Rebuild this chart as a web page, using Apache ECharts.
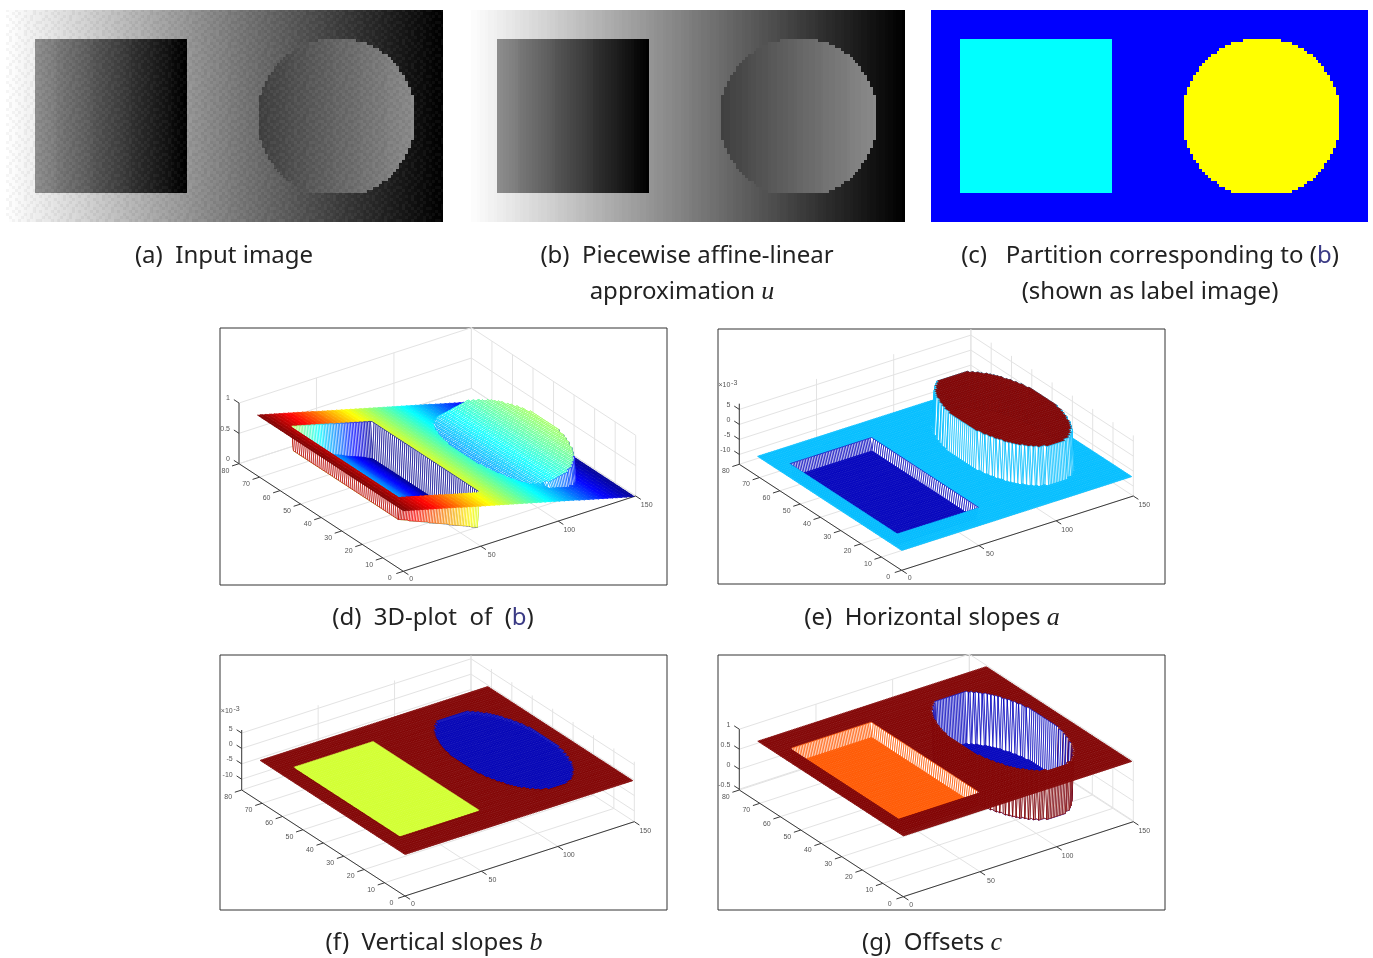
<!DOCTYPE html>
<html>
<head>
<meta charset="utf-8">
<title>Piecewise affine-linear approximation</title>
<style>html,body{margin:0;background:#fff}#chart{width:1373px;height:958px}</style>
<script src="https://cdn.jsdelivr.net/npm/echarts@6/dist/echarts.min.js"></script>
</head>
<body>
<div id="chart"></div>
<script>
// grey level of each image column
const backgroundGrey = [1,.99,.99,.98,.97,.97,.96,.95,.95,.94,.93,.93,.92,.91,.91,.90,.89,.89,.88,.87,.87,.86,.85,.85,.84,.83,.83,.82,.81,.81,
  .80,.79,.79,.78,.77,.77,.76,.75,.74,.74,.73,.72,.72,.71,.70,.70,.69,.68,.68,.67,.66,.66,.65,.64,.64,.63,.62,.62,.61,.60,
  .60,.59,.58,.58,.57,.56,.56,.55,.54,.54,.53,.52,.52,.51,.50,.50,.49,.48,.48,.47,.46,.46,.45,.44,.44,.43,.42,.42,.41,.40,
  .40,.39,.38,.38,.37,.36,.36,.35,.34,.34,.33,.32,.32,.31,.30,.30,.29,.28,.28,.27,.26,.26,.25,.24,.23,.23,.22,.21,.21,.20,
  .19,.19,.18,.17,.17,.16,.15,.15,.14,.13,.13,.12,.11,.11,.10,.09,.09,.08,.07,.07,.06,.05,.05,.04,.03,.03,.02,.01,.01,0];
const rectGrey = [.55,.54,.53,.52,.51,.50,.49,.47,.46,.45,.44,.43,.42,.41,.40,.39,.38,.37,.36,.35,
  .33,.32,.31,.30,.29,.28,.27,.26,.25,.24,.23,.22,.21,.19,.18,.17,.16,.15,.14,.13,
  .12,.11,.10,.09,.08,.07,.06,.04,.03,.02,.01,0];
const discGrey = [.25,.26,.26,.27,.27,.28,.28,.29,.29,.30,.31,.31,.32,.32,.33,.33,.34,.35,.35,.36,
  .36,.37,.37,.38,.38,.39,.40,.40,.41,.41,.42,.42,.43,.43,.44,.45,.45,.46,.46,.47,
  .47,.48,.48,.49,.50,.50,.51,.51,.52,.52,.53,.53,.54];

// partition, in image pixels: rectangle bounds, and half width of the disc per row (staircase of panel c)
const imageColumns = 150;
const imageRows = 72;
const rectColumns = [10, 61];
const rectRows = [10, 61];
const discCenterColumn = 113;
const discFirstRow = 10;
const discHalfWidths = [6,10,12,14,15,17,18,19,20,21,21,22,23,23,24,24,25,25,25,26,26,26,26,26,26,26,
  26,26,26,26,26,26,26,26,25,25,25,24,24,23,23,22,21,21,20,19,18,17,15,14,12,10];

// region values: background, rectangle, disc
const partitionLabels = [0, 1, 2];
const partitionColors = ['#0000ff', '#00ffff', '#ffff00'];
const horizontalSlopes = [-6.67, -10.6, 5.8];
const verticalSlopes = [0, -0.2, -0.5];
const offsets = [1, 0.66, -0.26];
const horizontalTones = [0.31, 0.05, 1];
const verticalTones = [1, 0.58, 0.04];
const offsetTones = [1, 0.79, 0.05];

// tick labels of the 3D boxes
const xTicks = [0, 50, 100, 150];
const yTicks = [0, 10, 20, 30, 40, 50, 60, 70, 80];
const zTicksUnit = [0, 0.5, 1];
const zTicksSlope = [-10, -5, 0, 5];
const zTicksOffset = [-0.5, 0, 0.5, 1];

// texture only, not data: hand typed grain laid over panel (a)
const grainTile = ['+0-+0-0+-0+-0', '-+0-0+-0+0-+0', '0-+-+0+-0-+0-', '+0-0+-0+-+0-+', '-0+0-+-0+0+-0',
  '0+-+0-+0-+-0+', '+-0-0+0-+0-+0', '-0++-0-+0-0+-', '0+-0+-+0-+0-+', '+-0+-0-0+-+0-', '-0+-0+0+-0-+0'];

const frames = { d: [220, 328, 447, 257], e: [718, 329, 447, 255], f: [220, 655, 447, 255], g: [718, 655, 447, 255] };

const jetStops = ['#000090', '#0000ff', '#0080ff', '#00ffff', '#80ff80', '#ffff00', '#ff8000', '#ff0000', '#800000'];

function regionOf(col, row) {
  if (col >= rectColumns[0] && col <= rectColumns[1] && row >= rectRows[0] && row <= rectRows[1]) return 1;
  const half = discHalfWidths[row - discFirstRow];
  if (half !== undefined && Math.abs(col - discCenterColumn) <= half) return 2;
  return 0;
}

function greyOf(col, row) {
  const region = regionOf(col, row);
  if (region === 1) return rectGrey[col - rectColumns[0]];
  if (region === 2) return discGrey[col - (discCenterColumn - 26)];
  return backgroundGrey[col];
}

function imageData(valueOf) {
  const out = [];
  for (let row = 0; row < imageRows; row++) {
    for (let col = 0; col < imageColumns; col++) out.push([col, row, valueOf(col, row)]);
  }
  return out;
}

const views = [
  {
    frame: frames.d, origin: [403.3, 571.3], xEnd: [635.7, 496], yEnd: [239, 463.7],
    zMin: 0, zMax: 1, zPixels: 60.7, zTicks: zTicksUnit,
    height: greyOf, tone: greyOf, discWash: 0.7
  },
  {
    frame: frames.e, origin: [901.7, 570.3], xEnd: [1133.3, 496], yEnd: [739.3, 464.3],
    zMin: -13.3, zMax: 6.9, zPixels: 60.6, zTicks: zTicksSlope, exponent: '-3', wallFromLow: true,
    height: (c, r) => horizontalSlopes[regionOf(c, r)], tone: (c, r) => horizontalTones[regionOf(c, r)], discWash: 0.15
  },
  {
    frame: frames.f, origin: [405, 896], xEnd: [634.3, 821.7], yEnd: [241.7, 790],
    zMin: -13.5, zMax: 6, zPixels: 60, zTicks: zTicksSlope, exponent: '-3',
    height: (c, r) => verticalSlopes[regionOf(c, r)], tone: (c, r) => verticalTones[regionOf(c, r)], discWash: 0.15
  },
  {
    frame: frames.g, origin: [903.3, 896.7], xEnd: [1133.3, 821.7], yEnd: [739.3, 790],
    zMin: -0.52, zMax: 1, zPixels: 60.8, zTicks: zTicksOffset,
    height: (c, r) => offsets[regionOf(c, r)], tone: (c, r) => offsetTones[regionOf(c, r)], discWash: 0.15
  }
];

// world (x, y, z) to page pixels, the view only holds where the box corners land
function project(view, x, y, z) {
  const ox = view.origin[0], oy = view.origin[1];
  const zUp = (z - view.zMin) / (view.zMax - view.zMin) * view.zPixels;
  return [
    ox + (view.xEnd[0] - ox) * x / 150 + (view.yEnd[0] - ox) * y / 80,
    oy + (view.xEnd[1] - oy) * x / 150 + (view.yEnd[1] - oy) * y / 80 - zUp
  ];
}

function boxItems(view) {
  const items = [];
  const zLo = view.zMin, zHi = view.zMax;
  const grid = (a, b) => items.push({ a, b, color: '#e3e3e3' });
  const axis = (a, b) => items.push({ a, b, color: '#3a3a3a' });
  const label = (at, dx, dy, text, align) => items.push({ at, dx, dy, text, align: align || 'center' });

  xTicks.forEach(t => {
    grid([t, 0, zLo], [t, 80, zLo]);
    grid([t, 80, zLo], [t, 80, zHi]);
  });
  yTicks.forEach(t => {
    grid([0, t, zLo], [150, t, zLo]);
    grid([150, t, zLo], [150, t, zHi]);
  });
  view.zTicks.forEach(t => {
    grid([0, 80, t], [150, 80, t]);
    grid([150, 80, t], [150, 0, t]);
  });
  axis([0, 0, zLo], [150, 0, zLo]);
  axis([0, 0, zLo], [0, 80, zLo]);
  axis([0, 80, zLo], [0, 80, zHi]);
  xTicks.forEach(t => {
    axis([t, 0, zLo], [t, -2.5, zLo]);
    label([t, 0, zLo], t === 0 ? 8 : 11, t === 0 ? 8 : 9, String(t));
  });
  yTicks.forEach(t => {
    axis([0, t, zLo], [-4.5, t, zLo]);
    label([0, t, zLo], -13.5, 7, String(t));
  });
  view.zTicks.forEach(t => {
    axis([0, 80, t], [0, 82.5, t]);
    label([0, 80, t], -9, -4.5, String(t), 'right');
  });
  if (view.exponent) {
    label([0, 80, zHi], -9, -18.5, '×10', 'right');
    label([0, 80, zHi], -2, -20.5, view.exponent, 'right');
  }
  return items;
}

// mesh cells, far corner first so nearer cells paint over them
function meshCells(view) {
  const cliff = (view.zMax - view.zMin) * 0.05;
  const cells = [];
  for (let r0 = imageRows - 2; r0 >= 0; r0--) {
    for (let c0 = imageColumns - 2; c0 >= 0; c0--) {
      const c1 = c0 + 1, r1 = r0 + 1;
      const corners = [[c0, r0], [c1, r0], [c1, r1], [c0, r1]];
      const heights = corners.map(p => view.height(p[0], p[1]));
      const lowest = Math.min.apply(null, heights);
      const wall = Math.max.apply(null, heights) - lowest > cliff;
      const toneCorner = wall && view.wallFromLow ? corners[heights.indexOf(lowest)] : corners[0];
      const stroke = echarts.color.lerp(view.tone(toneCorner[0], toneCorner[1]), jetStops);
      const wash = regionOf(c0, r0) === 2 ? view.discWash : 0.15;
      cells.push({
        points: corners.map((p, k) => project(view, p[0], p[1], heights[k])),
        stroke: stroke,
        fill: wall ? '#ffffff' : echarts.color.lerp(wash, [stroke, '#ffffff'])
      });
    }
  }
  return cells;
}

function boxSeries(view, gridIndex) {
  const items = boxItems(view);
  return {
    type: 'custom', xAxisIndex: gridIndex, yAxisIndex: gridIndex, silent: true, animation: false, progressive: 0, clip: false,
    data: items.map((d, i) => [i, 0]),
    renderItem(params, api) {
      const d = items[params.dataIndex];
      if (d.text !== undefined) {
        const p = api.coord(project(view, d.at[0], d.at[1], d.at[2]));
        return {
          type: 'text',
          style: {
            x: p[0] + d.dx, y: p[1] + d.dy, text: d.text, fill: '#555',
            font: '7px "Liberation Sans"', align: d.align, verticalAlign: 'middle'
          }
        };
      }
      const a = api.coord(project(view, d.a[0], d.a[1], d.a[2]));
      const b = api.coord(project(view, d.b[0], d.b[1], d.b[2]));
      return {
        type: 'line',
        shape: { x1: a[0], y1: a[1], x2: b[0], y2: b[1] },
        style: { stroke: d.color, lineWidth: 1 }
      };
    }
  };
}

function meshSeries(view, gridIndex) {
  const cells = meshCells(view);
  return {
    type: 'custom', xAxisIndex: gridIndex, yAxisIndex: gridIndex, silent: true, animation: false, progressive: 0, clip: false,
    data: cells.map((d, i) => [i, 0]),
    renderItem(params, api) {
      const d = cells[params.dataIndex];
      return {
        type: 'polygon',
        shape: { points: d.points.map(p => api.coord(p)) },
        style: { fill: d.fill, stroke: d.stroke, lineWidth: 0.7 }
      };
    }
  };
}

// rounds twice so both cells sharing an edge land on the same screen pixel
const snap = v => Math.round(Math.round(v * 1000) / 1000);

function imageSeries(i, data) {
  return {
    type: 'custom', xAxisIndex: i, yAxisIndex: i, silent: true, animation: false, progressive: 0,
    encode: { x: 0, y: 1 }, data: data,
    renderItem(params, api) {
      const c = api.coord([api.value(0), api.value(1)]);
      const s = api.size([1, 1]);
      const x0 = snap(c[0] - s[0] / 2), x1 = snap(c[0] + s[0] / 2);
      const y0 = snap(c[1] - s[1] / 2), y1 = snap(c[1] + s[1] / 2);
      return {
        type: 'rect',
        shape: { x: x0, y: y0, width: x1 - x0, height: y1 - y0 },
        style: { fill: api.visual('color') }
      };
    }
  };
}

function grainPattern() {
  const cell = 3;
  const canvas = document.createElement('canvas');
  canvas.width = grainTile[0].length * cell;
  canvas.height = grainTile.length * cell;
  const ctx = canvas.getContext('2d');
  grainTile.forEach((line, r) => {
    line.split('').forEach((ch, c) => {
      if (ch === '0') return;
      ctx.fillStyle = ch === '+' ? 'rgba(255,255,255,0.04)' : 'rgba(0,0,0,0.04)';
      ctx.fillRect(c * cell, r * cell, cell, cell);
    });
  });
  return canvas;
}

const imageBoxes = [[6, 10, 437, 212], [468, 10, 437, 212], [931, 10, 437, 212]];
const columnNames = backgroundGrey.map((v, i) => String(i));
const rowNames = [];
for (let r = 0; r < imageRows; r++) rowNames.push(String(r));

const grids = [], xAxes = [], yAxes = [];
imageBoxes.forEach(b => {
  grids.push({ left: b[0], top: b[1], width: b[2], height: b[3], show: false });
  xAxes.push({ type: 'category', data: columnNames, show: false, gridIndex: grids.length - 1 });
  yAxes.push({ type: 'category', data: rowNames, inverse: true, show: false, gridIndex: grids.length - 1 });
});
views.forEach(v => {
  const f = v.frame;
  grids.push({ left: f[0], top: f[1], width: f[2], height: f[3], show: true, borderColor: '#333', borderWidth: 1, backgroundColor: '#fff' });
  xAxes.push({ type: 'value', min: f[0], max: f[0] + f[2], show: false, gridIndex: grids.length - 1 });
  yAxes.push({ type: 'value', min: f[1], max: f[1] + f[3], inverse: true, show: false, gridIndex: grids.length - 1 });
});

const series = [
  imageSeries(0, imageData(greyOf)),
  imageSeries(1, imageData(greyOf)),
  imageSeries(2, imageData(regionOf))
];
views.forEach((v, i) => {
  series.push(boxSeries(v, i + 3));
  series.push(meshSeries(v, i + 3));
});

const captionFont = '"Noto Sans"';
const captionRich = {
  n: { fontFamily: captionFont, fontSize: 24, fill: '#222' },
  l: { fontFamily: captionFont, fontSize: 24, fill: '#3b3b85' },
  m: { fontFamily: '"Liberation Serif"', fontStyle: 'italic', fontSize: 26, fill: '#222' }
};
const caption = (x, y, text) => ({
  type: 'text', x: x, y: y, silent: true,
  style: { text: text, rich: captionRich, align: 'center', verticalAlign: 'middle' }
});

const option = {
  animation: false,
  grid: grids, xAxis: xAxes, yAxis: yAxes,
  visualMap: [
    { show: false, type: 'continuous', min: 0, max: 1, dimension: 2, seriesIndex: [0, 1], inRange: { color: ['#000000', '#ffffff'] } },
    {
      show: false, type: 'piecewise', seriesIndex: 2, dimension: 2,
      pieces: partitionLabels.map((v, i) => ({ value: v, color: partitionColors[i] }))
    }
  ],
  graphic: {
    elements: [
      {
        type: 'rect', z: 10, silent: true,
        shape: { x: imageBoxes[0][0], y: imageBoxes[0][1], width: imageBoxes[0][2], height: imageBoxes[0][3] },
        style: { fill: { image: grainPattern(), repeat: 'repeat' } }
      },
      caption(224, 256, '{n|(a)  Input image}'),
      caption(687, 256, '{n|(b)  Piecewise affine-linear}'),
      caption(682, 292, '{n|approximation }{m|u}'),
      caption(1150, 256, '{n|(c)   Partition corresponding to (}{l|b}{n|)}'),
      caption(1150, 292, '{n|(shown as label image)}'),
      caption(433, 618, '{n|(d)  3D-plot  of  (}{l|b}{n|)}'),
      caption(932, 618, '{n|(e)  Horizontal slopes }{m|a}'),
      caption(434, 943, '{n|(f)  Vertical slopes }{m|b}'),
      caption(932, 943, '{n|(g)  Offsets }{m|c}')
    ]
  },
  series: series
};

const chart = echarts.init(document.getElementById('chart'), null, { renderer: 'canvas' });
chart.setOption(option);
</script>
</body>
</html>
